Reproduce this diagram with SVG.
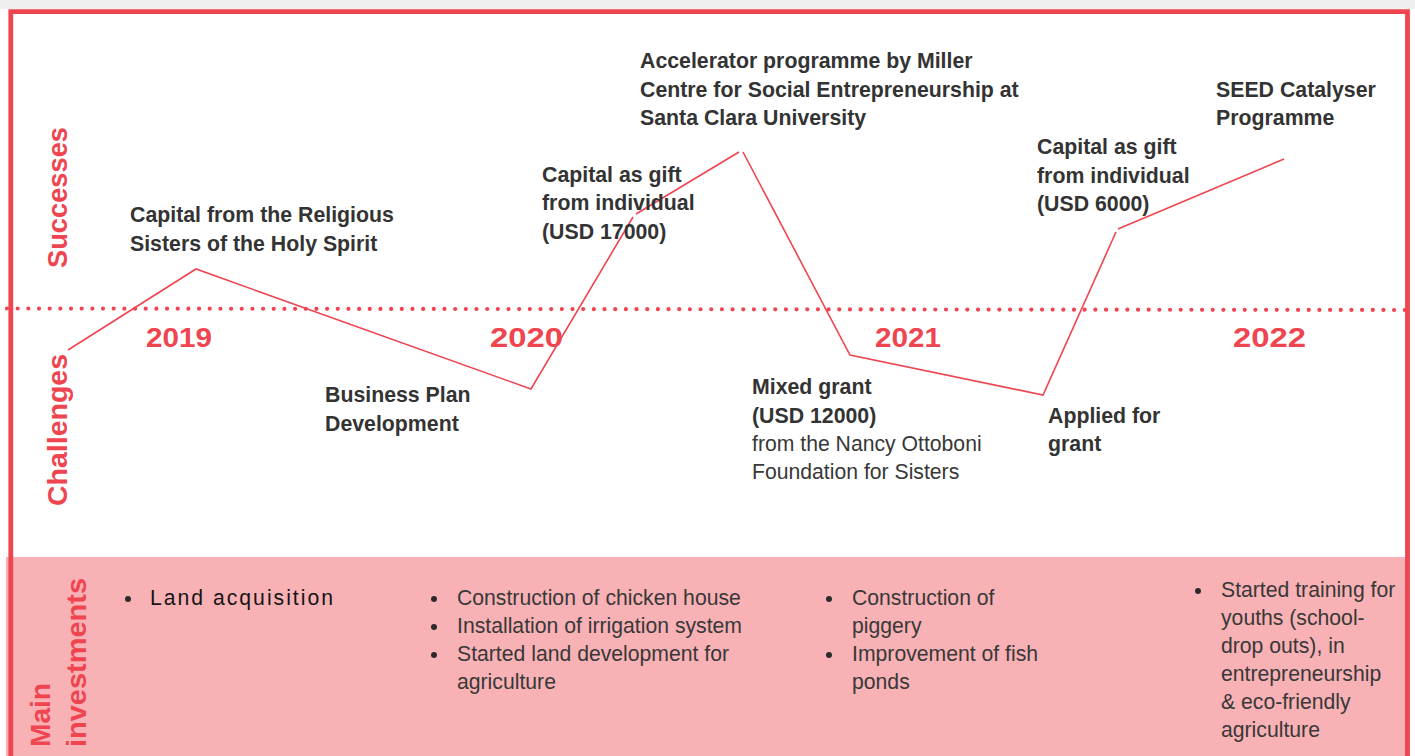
<svg xmlns="http://www.w3.org/2000/svg" width="1415" height="756" viewBox="0 0 1415 756">
  <style>
    .lbl { font-family: "Liberation Sans", Arial, sans-serif; font-weight: bold; font-size: 21.3px; fill: #333333; }
    .reg { font-family: "Liberation Sans", Arial, sans-serif; font-size: 21.2px; fill: #383838; }
    .year { font-family: "Liberation Sans", Arial, sans-serif; font-weight: bold; font-size: 27px; fill: #ef4550; }
    .side { font-family: "Liberation Sans", Arial, sans-serif; font-weight: bold; font-size: 28px; fill: #ef4550; }
    .conn { fill: none; stroke: #ef4550; stroke-width: 1.6; stroke-linejoin: miter; }
    .bul { fill: #2b2b2b; }
  </style>
  <rect x="0" y="0" width="1415" height="756" fill="#ffffff"/>
  <rect x="0" y="0" width="1415" height="9" fill="#efefef"/>
  <g id="investments-band">
    <rect x="6" y="557" width="1400" height="199" fill="#f8b1b5"/>
  </g>
  <g id="frame">
    <path d="M10.8,756 V11.6 H1407.5 V756" fill="none" stroke="#ef4550" stroke-width="4.8"/>
  </g>
  <g id="divider">
    <line x1="7" y1="308.5" x2="1410" y2="310" stroke="#ef4550" stroke-width="4.2" stroke-linecap="round" stroke-dasharray="0 10.67"/>
  </g>
  <g id="side-labels">
    <text class="side" transform="translate(67,268) rotate(-90)" textLength="141" lengthAdjust="spacingAndGlyphs">Successes</text>
    <text class="side" transform="translate(67,506) rotate(-90)" textLength="152" lengthAdjust="spacingAndGlyphs">Challenges</text>
    <text class="side" transform="translate(50,747) rotate(-90)" textLength="64" lengthAdjust="spacingAndGlyphs">Main</text>
    <text class="side" transform="translate(86,747) rotate(-90)" textLength="169" lengthAdjust="spacingAndGlyphs">investments</text>
  </g>
  <g id="years">
    <text class="year" x="146" y="347" textLength="66" lengthAdjust="spacingAndGlyphs">2019</text>
    <text class="year" x="490" y="347" textLength="73" lengthAdjust="spacingAndGlyphs">2020</text>
    <text class="year" x="875" y="347" textLength="66" lengthAdjust="spacingAndGlyphs">2021</text>
    <text class="year" x="1233" y="347" textLength="73" lengthAdjust="spacingAndGlyphs">2022</text>
  </g>
  <g id="connectors">
    <path class="conn" d="M68,350 L196,269 L531,389 L633,217"/>
    <path class="conn" d="M636,214 L739,152"/>
    <path class="conn" d="M743,152 L850,355 L1043,395 L1116,232"/>
    <path class="conn" d="M1118,229 L1284,159"/>
  </g>
  <g id="node-religious-sisters">
    <text class="lbl" x="130" y="222">Capital from the Religious</text>
    <text class="lbl" x="130" y="251">Sisters of the Holy Spirit</text>
  </g>
  <g id="node-business-plan">
    <text class="lbl" x="325" y="402">Business Plan</text>
    <text class="lbl" x="325" y="431">Development</text>
  </g>
  <g id="node-gift-17000">
    <text class="lbl" x="542" y="182">Capital as gift</text>
    <text class="lbl" x="542" y="210">from individual</text>
    <text class="lbl" x="542" y="239">(USD 17000)</text>
  </g>
  <g id="node-accelerator">
    <text class="lbl" x="640" y="68">Accelerator programme by Miller</text>
    <text class="lbl" x="640" y="97">Centre for Social Entrepreneurship at</text>
    <text class="lbl" x="640" y="125">Santa Clara University</text>
  </g>
  <g id="node-mixed-grant">
    <text class="lbl" x="752" y="394">Mixed grant</text>
    <text class="lbl" x="752" y="423">(USD 12000)</text>
    <text class="reg" x="752" y="451">from the Nancy Ottoboni</text>
    <text class="reg" x="752" y="479">Foundation for Sisters</text>
  </g>
  <g id="node-applied-grant">
    <text class="lbl" x="1048" y="423">Applied for</text>
    <text class="lbl" x="1048" y="451">grant</text>
  </g>
  <g id="node-gift-6000">
    <text class="lbl" x="1037" y="154">Capital as gift</text>
    <text class="lbl" x="1037" y="183">from individual</text>
    <text class="lbl" x="1037" y="211">(USD 6000)</text>
  </g>
  <g id="node-seed">
    <text class="lbl" x="1216" y="97">SEED Catalyser</text>
    <text class="lbl" x="1216" y="125">Programme</text>
  </g>
  <g id="inv-2019">
    <circle class="bul" cx="128" cy="599" r="3"/>
    <text class="reg" x="150" y="605" style="fill:#151515" textLength="183" lengthAdjust="spacing">Land acquisition</text>
  </g>
  <g id="inv-2020">
    <circle class="bul" cx="434" cy="599" r="3"/>
    <text class="reg" x="457" y="605">Construction of chicken house</text>
    <circle class="bul" cx="434" cy="627" r="3"/>
    <text class="reg" x="457" y="633">Installation of irrigation system</text>
    <circle class="bul" cx="434" cy="655" r="3"/>
    <text class="reg" x="457" y="661">Started land development for</text>
    <text class="reg" x="457" y="689">agriculture</text>
  </g>
  <g id="inv-2021">
    <circle class="bul" cx="829" cy="599" r="3"/>
    <text class="reg" x="852" y="605">Construction of</text>
    <text class="reg" x="852" y="633">piggery</text>
    <circle class="bul" cx="829" cy="655" r="3"/>
    <text class="reg" x="852" y="661">Improvement of fish</text>
    <text class="reg" x="852" y="689">ponds</text>
  </g>
  <g id="inv-2022">
    <circle class="bul" cx="1198" cy="591" r="3"/>
    <text class="reg" x="1221" y="597">Started training for</text>
    <text class="reg" x="1221" y="625">youths (school-</text>
    <text class="reg" x="1221" y="653">drop outs), in</text>
    <text class="reg" x="1221" y="681">entrepreneurship</text>
    <text class="reg" x="1221" y="709">&amp; eco-friendly</text>
    <text class="reg" x="1221" y="737">agriculture</text>
  </g>
</svg>
